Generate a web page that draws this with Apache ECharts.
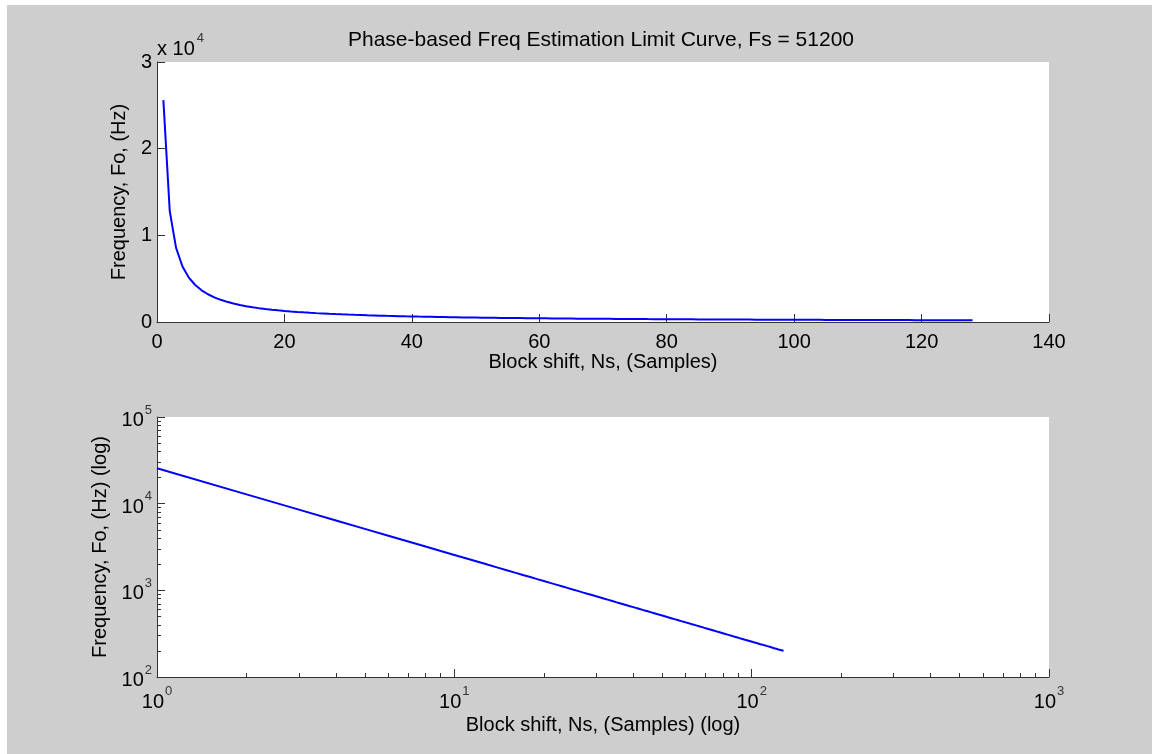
<!DOCTYPE html>
<html>
<head>
<meta charset="utf-8">
<script src="https://cdn.jsdelivr.net/npm/echarts@6/dist/echarts.min.js"></script>
<style>
html,body{margin:0;padding:0;background:#fff;}
#chart{position:absolute;left:0;top:0;width:1152px;height:754px;}
.strip{position:absolute;background:#fff;z-index:5;}
</style>
</head>
<body>
<div id="chart"></div>
<div class="strip" style="left:0;top:0;width:7px;height:754px;"></div>
<div class="strip" style="left:0;top:0;width:1152px;height:5px;"></div>
<script>
// Block shift Ns (samples)
const ns = [1,2,3,4,5,6,7,8,9,10,11,12,13,14,15,16,17,18,19,20,21,22,23,24,25,26,27,28,29,30,31,32,
  33,34,35,36,37,38,39,40,41,42,43,44,45,46,47,48,49,50,51,52,53,54,55,56,57,58,59,60,61,62,63,64,
  65,66,67,68,69,70,71,72,73,74,75,76,77,78,79,80,81,82,83,84,85,86,87,88,89,90,91,92,93,94,95,96,
  97,98,99,100,101,102,103,104,105,106,107,108,109,110,111,112,113,114,115,116,117,118,119,120,121,122,123,124,125,126,127,128];
// Limit frequency Fo (Hz)
const fo = [25600,12800,8533,6400,5120,4267,3657,3200,2844,2560,2327,2133,1969,1829,1707,1600,1506,1422,1347,1280,1219,1164,1113,1067,1024,985,948,914,883,853,826,800,
  776,753,731,711,692,674,656,640,624,610,595,582,569,557,545,533,522,512,502,492,483,474,465,457,449,441,434,427,420,413,406,400,
  394,388,382,376,371,366,361,356,351,346,341,337,332,328,324,320,316,312,308,305,301,298,294,291,288,284,281,278,275,272,269,267,
  264,261,259,256,253,251,249,246,244,242,239,237,235,233,231,229,227,225,223,221,219,217,215,213,212,210,208,206,205,203,202,200];

const titleText = 'Phase-based Freq Estimation Limit Curve, Fs = 51200';
const xLabelTop = 'Block shift, Ns, (Samples)';
const yLabelTop = 'Frequency, Fo, (Hz)';
const xLabelBot = 'Block shift, Ns, (Samples) (log)';
const yLabelBot = 'Frequency, Fo, (Hz) (log)';
const xMinorTicks = [2,3,4,5,6,7,8,9,20,30,40,50,60,70,80,90,200,300,400,500,600,700,800,900];
const yMinorTicks = [200,300,400,500,600,700,800,900,2000,3000,4000,5000,6000,7000,8000,9000,20000,30000,40000,50000,60000,70000,80000,90000];

const FONT = 'Liberation Sans, Arial, Helvetica, sans-serif';
const pairs = ns.map((n, i) => [n, fo[i]]);

const supRich = {
  b: {fontSize: 20, fontFamily: FONT, color: '#000', padding: [7, 0, 0, 0]},
  s: {fontSize: 13, fontFamily: FONT, color: '#333', verticalAlign: 'top', padding: [0, 0, 0, 1]}
};
function logFmt(v) {
  const e = Math.round(Math.log10(v));
  return '{b|10}{s|' + e + '}';
}

const axisLine = {show: true, lineStyle: {color: '#333', width: 1}};
const tick = {show: true, inside: true, length: 8, lineStyle: {color: '#333'}};
const nameStyle = {fontSize: 20, fontFamily: FONT, color: '#000'};
const labelStyle = {fontSize: 20, fontFamily: FONT, color: '#000'};

const chart = echarts.init(document.getElementById('chart'), null, {renderer: 'canvas'});
chart.setOption({
  animation: false,
  backgroundColor: '#cecece',
  title: {
    text: titleText, left: 596, top: 25, textAlign: 'center',
    textStyle: {fontSize: 21, fontWeight: 'normal', fontFamily: FONT, color: '#000'}
  },
  graphic: [{
    type: 'text', left: 157, top: 32, z: 10,
    style: {
      text: '{x|x 10}{s|4}',
      rich: {
        x: {fontSize: 20, fontFamily: FONT, fill: '#000', padding: [7, 0, 0, 0]},
        s: {fontSize: 13, fontFamily: FONT, fill: '#333', verticalAlign: 'top', padding: [0, 0, 0, 2]}
      }
    }
  }],
  grid: [
    {left: 157, top: 62, width: 892, height: 260, show: true, backgroundColor: '#fff', borderWidth: 0},
    {left: 157, top: 417, width: 892, height: 260, show: true, backgroundColor: '#fff', borderWidth: 0}
  ],
  xAxis: [
    {gridIndex: 0, type: 'value', position: 'bottom', min: 0, max: 140, interval: 20,
     name: xLabelTop, nameLocation: 'middle', nameGap: 30, nameTextStyle: nameStyle,
     axisLine: axisLine, axisTick: tick, splitLine: {show: false},
     axisLabel: Object.assign({margin: 10}, labelStyle)},
    {gridIndex: 1, type: 'log', logBase: 10, position: 'bottom', min: 1, max: 1000,
     name: xLabelBot, nameLocation: 'middle', nameGap: 38, nameTextStyle: nameStyle,
     axisLine: axisLine, axisTick: tick, splitLine: {show: false}, minorTick: {show: false},
     axisLabel: {margin: 8, formatter: logFmt, rich: supRich}},
    {gridIndex: 1, type: 'log', logBase: 10, position: 'bottom', min: 1, max: 1000,
     axisLine: {show: false}, axisLabel: {show: false}, splitLine: {show: false},
     axisTick: {show: true, inside: true, length: 4, lineStyle: {color: '#333'}, customValues: xMinorTicks}}
  ],
  yAxis: [
    {gridIndex: 0, type: 'value', position: 'left', min: 0, max: 30000, interval: 10000,
     name: yLabelTop, nameLocation: 'middle', nameGap: 27, nameTextStyle: nameStyle,
     axisLine: axisLine, axisTick: tick, splitLine: {show: false},
     axisLabel: Object.assign({margin: 5, formatter: v => String(v / 10000)}, labelStyle)},
    {gridIndex: 1, type: 'log', logBase: 10, position: 'left', min: 100, max: 100000,
     name: yLabelBot, nameLocation: 'middle', nameGap: 35, nameTextStyle: nameStyle,
     axisLine: axisLine, axisTick: tick, splitLine: {show: false}, minorTick: {show: false},
     axisLabel: {margin: 5, formatter: logFmt, rich: supRich}},
    {gridIndex: 1, type: 'log', logBase: 10, position: 'left', min: 100, max: 100000,
     axisLine: {show: false}, axisLabel: {show: false}, splitLine: {show: false},
     axisTick: {show: true, inside: true, length: 4, lineStyle: {color: '#333'}, customValues: yMinorTicks}}
  ],
  series: [
    {type: 'line', xAxisIndex: 0, yAxisIndex: 0, data: pairs, showSymbol: false, symbol: 'none',
     lineStyle: {color: '#0000ff', width: 2}, z: 5},
    {type: 'line', xAxisIndex: 1, yAxisIndex: 1, data: pairs, showSymbol: false, symbol: 'none',
     lineStyle: {color: '#0000ff', width: 2}, z: 5}
  ]
});
</script>
</body>
</html>
